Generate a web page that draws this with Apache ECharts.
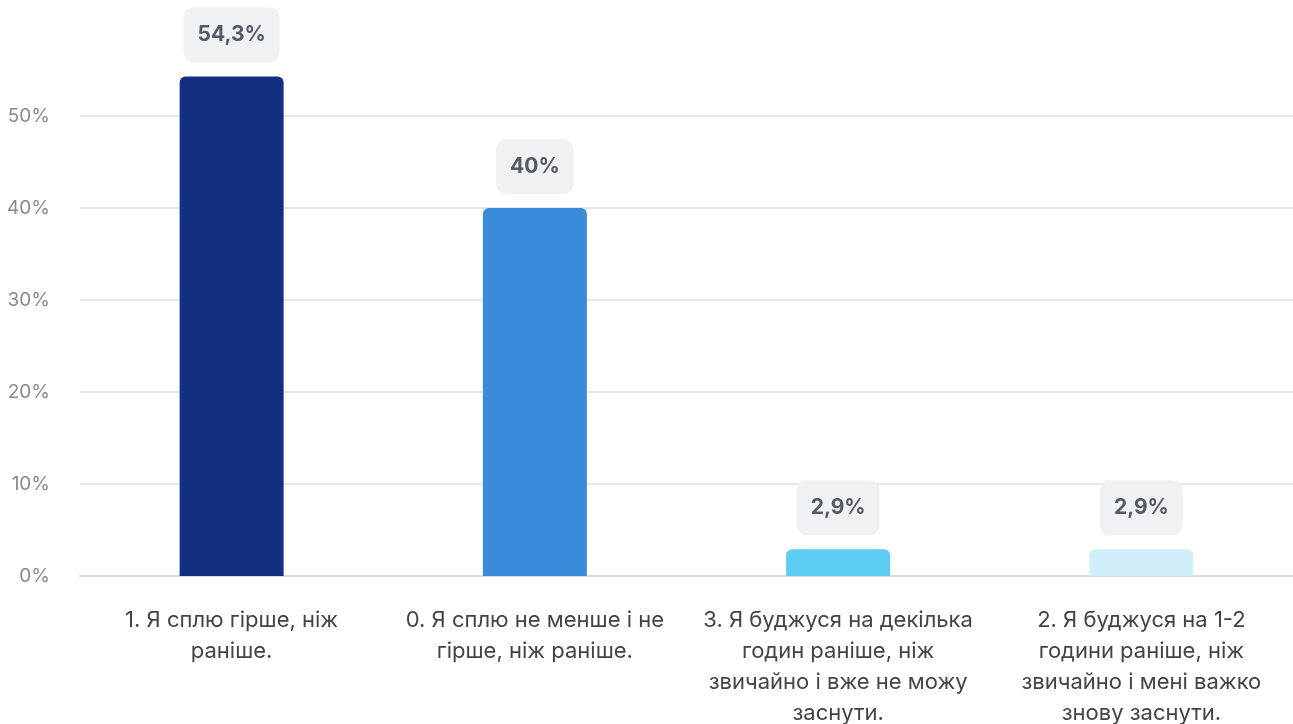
<!DOCTYPE html>
<html>
<head>
<meta charset="utf-8">
<script src="https://cdn.jsdelivr.net/npm/echarts@6/dist/echarts.min.js"></script>
<style>
  html, body { margin: 0; padding: 0; background: #fff; }
  #sleepChart { width: 1293px; height: 724px; }
</style>
</head>
<body>
<div id="sleepChart"></div>
<script>
// відповіді на питання про сон
const categories = [
  '1. Я сплю гірше, ніж раніше.',
  '0. Я сплю не менше і не гірше, ніж раніше.',
  '3. Я буджуся на декілька годин раніше, ніж звичайно і вже не можу заснути.',
  '2. Я буджуся на 1-2 години раніше, ніж звичайно і мені важко знову заснути.'
]
const values = [54.3, 40, 2.9, 2.9]
const barColors = ['#12307f', '#3a8bd9', '#5ccdf0', '#cff0fa']
const tickLabels = ['0%', '10%', '20%', '30%', '40%', '50%', '']

// перенос підписів по словах (вбудований break міряє не тим шрифтом)
const ctx = document.createElement('canvas').getContext('2d')
ctx.font = '22px Inter'
function wrap(text, maxWidth) {
  const lines = []
  let line = ''
  text.split(' ').forEach(word => {
    const test = line ? line + ' ' + word : word
    if (line && ctx.measureText(test).width > maxWidth) {
      lines.push(line)
      line = word
    } else {
      line = test
    }
  })
  lines.push(line)
  return lines.join('\n')
}

const chart = echarts.init(document.getElementById('sleepChart'))
chart.setOption({
  textStyle: { fontFamily: 'Inter' },
  grid: { left: 80, right: 0, top: 24, bottom: 148, outerBoundsMode: 'none' },
  xAxis: {
    type: 'category',
    data: categories,
    axisTick: { show: false },
    axisLine: { lineStyle: { color: '#d3dbec', width: 2 } },
    axisLabel: {
      color: '#444',
      fontFamily: 'Inter',
      fontSize: 22,
      lineHeight: 31,
      margin: 29,
      interval: 0,
      formatter: (v) => wrap(v, 278)
    }
  },
  yAxis: {
    type: 'value',
    min: 0,
    max: 60,
    interval: 10,
    axisLabel: {
      color: '#8a8a8a',
      fontFamily: 'Inter',
      fontSize: 19,
      margin: 30,
      formatter: (v) => tickLabels[v / 10]
    },
    splitLine: {
      lineStyle: {
        color: ['#e8e8e8', '#e8e8e8', '#e8e8e8', '#e8e8e8', '#e8e8e8', '#e8e8e8', 'rgba(0,0,0,0)'],
        width: 2
      }
    }
  },
  series: [
    {
      type: 'bar',
      barWidth: 104,
      data: values.map((v, i) => ({ value: v, itemStyle: { color: barColors[i] } })),
      itemStyle: { borderRadius: [6, 6, 0, 0] },
      label: {
        show: true,
        position: 'top',
        distance: 14,
        color: '#545b67',
        fontFamily: 'Inter',
        fontSize: 21,
        fontWeight: 'bold',
        backgroundColor: '#f0f1f2',
        borderRadius: 10,
        padding: [17, 14],
        formatter: (p) => String(p.value).replace('.', ',') + '%'
      }
    }
  ]
})
</script>
</body>
</html>
